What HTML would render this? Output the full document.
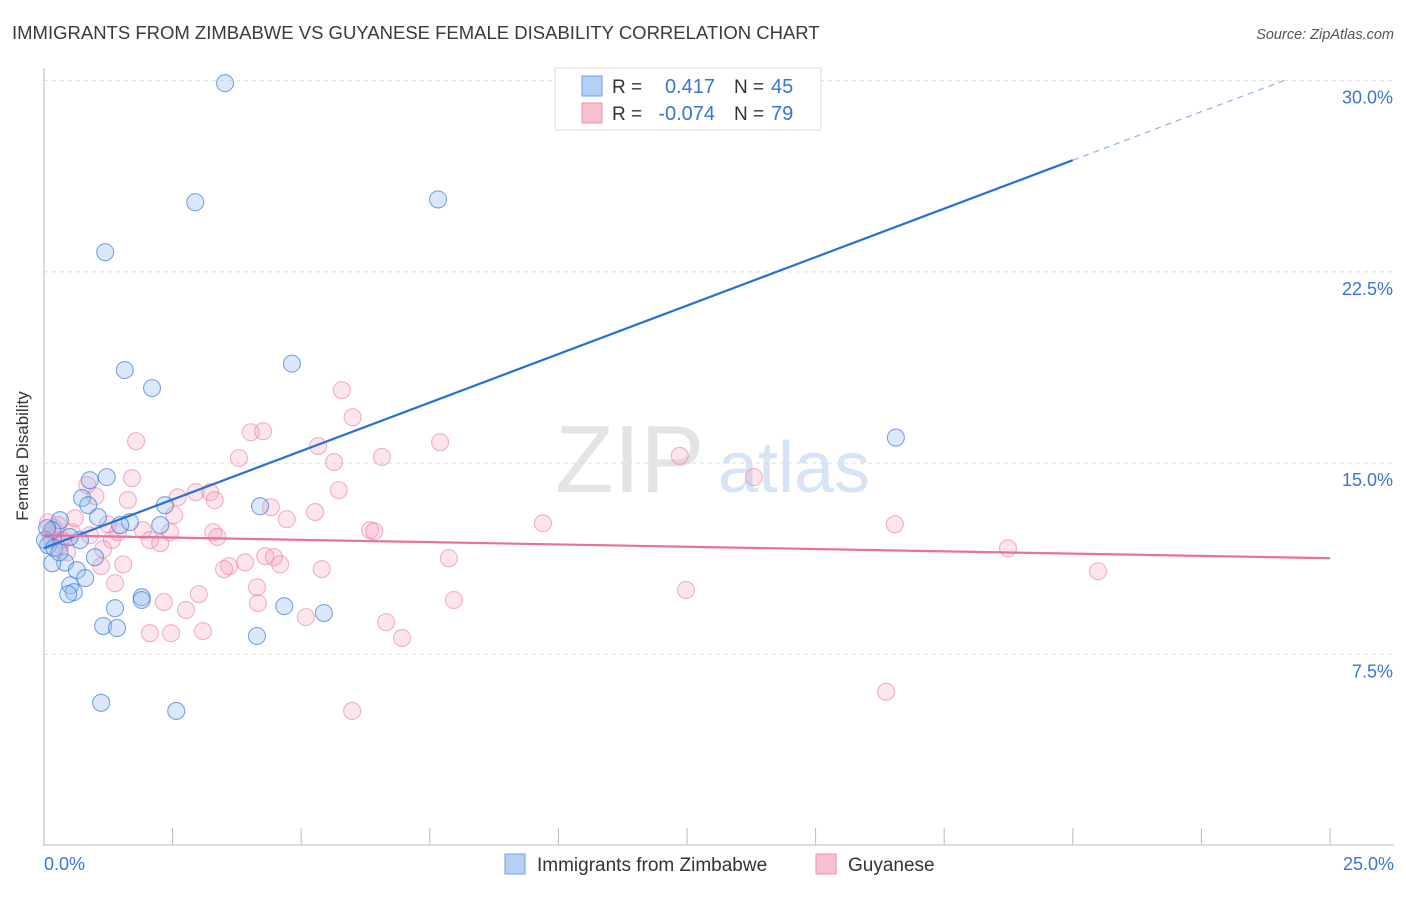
<!DOCTYPE html>
<html><head><meta charset="utf-8"><style>
body{margin:0;background:#fff;font-family:"Liberation Sans",sans-serif;}
svg text{font-family:"Liberation Sans",sans-serif;}
</style></head><body>
<svg width="1406" height="892" id="chart">
<text x="12" y="39" font-size="18.5" fill="#3a3a3a">IMMIGRANTS FROM ZIMBABWE VS GUYANESE FEMALE DISABILITY CORRELATION CHART</text>
<text x="1394" y="39" font-size="14.5" fill="#555" text-anchor="end" font-style="italic">Source: ZipAtlas.com</text>
<text x="28" y="456" font-size="17" fill="#333" text-anchor="middle" transform="rotate(-90 28 456)">Female Disability</text>
<text x="555" y="492" font-size="96" fill="#e4e4e4" font-family="Liberation Serif">ZIP</text>
<text x="718" y="492" font-size="72" fill="#d6e4f5">atlas</text>
<g id="grid"></g><g id="pts"></g><g id="lines"></g>
<g>
<rect x="555" y="68" width="266" height="62" fill="#fff" stroke="#ddd"/>
<rect x="582" y="76" width="20" height="20" fill="#b5cff5" stroke="#6f9fe0"/>
<rect x="582" y="103" width="20" height="20" fill="#f7c0d0" stroke="#ec8fae"/>
<text x="612" y="93" font-size="19" fill="#333">R = </text><text x="715" y="93" font-size="20" fill="#3a74d4" text-anchor="end">0.417</text>
<text x="734" y="93" font-size="19" fill="#333">N = </text><text x="771" y="93" font-size="20" fill="#3a74d4">45</text>
<text x="612" y="120" font-size="19" fill="#333">R = </text><text x="715" y="120" font-size="20" fill="#3a74d4" text-anchor="end">-0.074</text>
<text x="734" y="120" font-size="19" fill="#333">N = </text><text x="771" y="120" font-size="20" fill="#3a74d4">79</text>
</g>
<g>
<rect x="505" y="854" width="20" height="20" fill="#b5cff5" stroke="#6f9fe0"/>
<text x="537" y="871" font-size="19" fill="#333">Immigrants from Zimbabwe</text>
<rect x="816" y="854" width="20" height="20" fill="#f7c0d0" stroke="#ec8fae"/>
<text x="848" y="871" font-size="19" fill="#333">Guyanese</text>
</g>
<text x="44" y="870" font-size="18" fill="#3a74d4">0.0%</text>
<text x="1394" y="870" font-size="18" fill="#3a74d4" text-anchor="end">25.0%</text>
</svg>
<script>
const yTicks=[7.5,15,22.5,30];
const yTickLabels=["7.5%","15.0%","22.5%","30.0%"];
const blueX=[3.52,2.94,7.66,1.19,4.82,1.57,2.10,16.56,1.22,0.89,0.74,0.86,1.05,2.35,4.2,1.67,1.48,2.26,0.31,0.16,0.08,0.70,0.99,0.41,0.16,0.64,0.80,0.51,0.58,0.47,1.90,1.90,1.38,4.67,5.44,1.15,1.42,4.14,1.11,2.57,0.02,0.2,0.06,0.5,0.3];
const blueY=[29.9,25.23,25.34,23.27,18.9,18.65,17.94,16.0,14.45,14.33,13.63,13.35,12.88,13.35,13.31,12.69,12.57,12.57,12.76,12.37,11.78,11.98,11.31,11.1,11.07,10.8,10.49,10.21,9.94,9.86,9.74,9.63,9.31,9.39,9.12,8.61,8.53,8.22,5.6,5.28,11.98,11.67,12.45,12.1,11.5];
const pinkX=[5.99,16.37,5.79,6.0,1.79,4.02,4.26,5.33,7.70,3.79,6.57,12.36,13.8,1.71,5.64,0.84,1.0,2.95,3.23,2.6,1.63,3.32,5.73,4.41,2.53,5.27,4.72,9.7,16.54,0.27,0.54,0.89,1.44,1.92,2.45,3.29,6.34,6.42,2.06,2.26,1.32,3.37,0.12,0.35,1.15,0.45,18.74,4.3,4.47,4.59,7.87,3.91,3.6,3.5,1.54,1.11,5.4,20.49,1.38,4.14,12.48,3.01,7.97,2.33,4.16,2.76,5.09,6.65,6.96,2.06,2.47,3.09,10.42,0.08,0.2,0.6,0.31,1.24,0.15];
const pinkY=[5.28,6.03,17.86,16.8,15.86,16.21,16.25,15.67,15.82,15.2,15.24,15.28,14.45,14.41,15.04,14.14,13.7,13.86,13.86,13.66,13.55,13.55,13.94,13.27,12.96,13.08,12.8,12.64,12.6,12.57,12.29,12.17,12.29,12.37,12.29,12.29,12.37,12.33,11.98,11.86,11.98,12.1,12.17,11.98,11.62,11.5,11.66,11.35,11.31,11.03,11.27,11.11,10.96,10.84,11.03,10.96,10.84,10.76,10.29,10.13,10.02,9.86,9.63,9.55,9.51,9.24,8.96,8.76,8.14,8.33,8.33,8.41,28.7,12.68,12.45,12.84,11.78,12.6,12.0];
const blueTrend=[0,11.67,20,26.88,24.2];
const pinkTrend=[0,12.17,25,11.27];
const X=v=>44+v/25*1286, Y=v=>845.6-v*25.5;
const NS="http://www.w3.org/2000/svg";
function mk(p,t,a){const e=document.createElementNS(NS,t);for(const k in a)e.setAttribute(k,a[k]);p.appendChild(e);return e;}
const g=document.getElementById('grid');
yTicks.forEach((t,i)=>{
 const l=mk(g,'line',{x1:44,x2:1394,y1:Y(t),y2:Y(t),stroke:'#ddd','stroke-dasharray':'4,4'});
 
 
 const tx=mk(g,'text',{x:1393,y:Y(t)+23,'font-size':18,fill:'#3a74d4','text-anchor':'end'});
 tx.textContent=yTickLabels[i];
 
 
});
mk(g,'line',{x1:44,x2:44,y1:68,y2:846,stroke:'#bbb'});
mk(g,'line',{x1:44,x2:1394,y1:845,y2:845,stroke:'#bbb'});
for(let i=1;i<=10;i++){const x=X(i*2.5);const t=mk(g,'line',{x1:x,x2:x,y1:828,y2:845,stroke:'#bbb'});
 
 }
const pg=document.getElementById('pts');
pinkX.forEach((x,i)=>{const c=mk(pg,'circle',{cx:X(x),cy:Y(pinkY[i]),r:8.5,fill:'rgba(244,160,186,0.28)',stroke:'rgba(232,120,158,0.55)','stroke-width':1.1});
 
 });
blueX.forEach((x,i)=>{const c=mk(pg,'circle',{cx:X(x),cy:Y(blueY[i]),r:8.5,fill:'rgba(150,190,240,0.35)',stroke:'rgba(60,120,210,0.65)','stroke-width':1.1});
 
 });
const lg=document.getElementById('lines');
const sl=(blueTrend[3]-blueTrend[1])/(blueTrend[2]-blueTrend[0]);
let b=mk(lg,'line',{x1:X(blueTrend[0]),y1:Y(blueTrend[1]),x2:X(blueTrend[2]),y2:Y(blueTrend[3]),stroke:'#2a6fd6','stroke-width':2.2});


let bd=mk(lg,'line',{x1:X(blueTrend[2]),y1:Y(blueTrend[3]),x2:X(blueTrend[4]),y2:Y(blueTrend[1]+sl*blueTrend[4]),stroke:'#8fb3e8','stroke-width':1.2,'stroke-dasharray':'6,5'});


let p=mk(lg,'line',{x1:X(pinkTrend[0]),y1:Y(pinkTrend[1]),x2:X(pinkTrend[2]),y2:Y(pinkTrend[3]),stroke:'#e8709a','stroke-width':2.2});


</script>
</body></html>
